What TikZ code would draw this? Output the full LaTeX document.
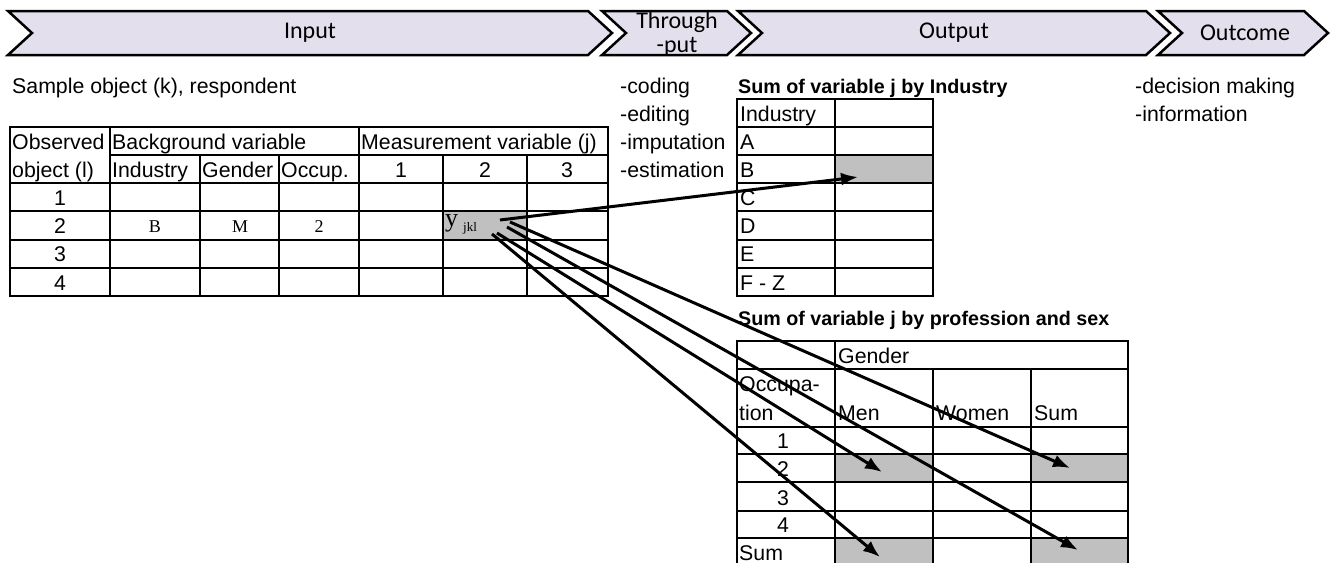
\documentclass[tikz,border=0pt]{standalone}
\usepackage{fontspec}
\setmainfont{Liberation Sans}
\newfontfamily\tnr{Liberation Serif}
\newfontfamily\calib{Carlito}
\usetikzlibrary{arrows.meta}
\definecolor{chev}{HTML}{E4DFEC}
\definecolor{cellgray}{HTML}{C0C0C0}
\begin{document}
\begin{tikzpicture}[x=1pt,y=-1pt,
 chevron/.style={fill=chev,draw=black,line width=2.5pt,line join=miter},
 chevtxt/.style={font=\calib\fontsize{24}{25}\selectfont, inner sep=0, align=center},
 txt/.style={font=\fontsize{21.3}{24}\selectfont, inner sep=0, anchor=base west},
 ctxt/.style={font=\fontsize{21.3}{24}\selectfont, inner sep=0, anchor=base},
 btxt/.style={font=\bfseries\fontsize{19.7}{24}\selectfont, inner sep=0, anchor=base west},
 serif/.style={font=\tnr\fontsize{18}{20}\selectfont, inner sep=0, anchor=base},
 grid/.style={line width=2pt, draw=black},
 gcell/.style={fill=cellgray},
 arr/.style={line width=3pt, -{Latex[length=17pt,width=13pt]}},
]
\useasboundingbox[fill=white] (0,0) rectangle (1332,562);

% ---------- chevrons ----------
\draw[chevron] (8,11) -- (588,11) -- (612,33) -- (588,55) -- (8,55) -- (32,33) -- cycle;
\draw[chevron] (602,11) -- (727,11) -- (751,33) -- (727,55) -- (602,55) -- (626,33) -- cycle;
\draw[chevron] (738,11) -- (1146,11) -- (1170,33) -- (1146,55) -- (738,55) -- (762,33) -- cycle;
\draw[chevron] (1158,11) -- (1304,11) -- (1328,33) -- (1304,55) -- (1158,55) -- (1182,33) -- cycle;
\node[chevtxt] (hin) at (310,33) {Input};
\node[chevtxt, anchor=base] (hth1) at (677,28) {Through};
\node[chevtxt, anchor=base] (hth2) at (677,52) {-put};
\node[chevtxt] (hout) at (954,33) {Output};
\node[chevtxt] (hoc) at (1245,33) {Outcome};

% ---------- free texts ----------
\node[txt] (sample) at (12,93) {Sample object (k), respondent};
\node[txt] (p1) at (620,93) {-coding};
\node[txt] (p2) at (620,121) {-editing};
\node[txt] (p3) at (620,149) {-imputation};
\node[txt] (p4) at (620,177) {-estimation};
\node[txt] (o1) at (1135,93) {-decision making};
\node[txt] (o2) at (1135,121) {-information};
\node[btxt] (ttl1) at (738,93) {Sum of variable j by Industry};
\node[btxt] (ttl2) at (738,325) {Sum of variable j by profession and sex};

% ---------- gray cells ----------
\fill[gcell] (443,211) rectangle (527,239.5);
\fill[gcell] (835,155) rectangle (933,183);
\fill[gcell] (835,454) rectangle (933,482);
\fill[gcell] (1031,454) rectangle (1128,482);
\fill[gcell] (835,538) rectangle (933,570);
\fill[gcell] (1031,538) rectangle (1128,570);

% ---------- main table ----------
\draw[grid] (10,127) rectangle (608,296);
\draw[grid] (110,155) -- (608,155);
\foreach \yy in {183,211,239.5,268} \draw[grid] (10,\yy) -- (608,\yy);
\foreach \xx in {110,359} \draw[grid] (\xx,127) -- (\xx,296);
\foreach \xx in {200,279,443,527} \draw[grid] (\xx,155) -- (\xx,296);
\node[txt] (m1) at (12,149) {Observed};
\node[txt] (m2) at (12,177) {object (l)};
\node[txt] (m3) at (112,149) {Background variable};
\node[txt] (m4) at (361,149) {Measurement variable (j)};
\node[txt] (m5) at (112,177) {Industry};
\node[txt] (m6) at (202,177) {Gender};
\node[txt] (m7) at (281,177) {Occup.};
\node[ctxt] (m8) at (401,177) {1};
\node[ctxt] (m9) at (485,177) {2};
\node[ctxt] (m10) at (567,177) {3};
\node[ctxt] (r1) at (60,205) {1};
\node[ctxt] (r2) at (60,233) {2};
\node[ctxt] (r3) at (60,261.5) {3};
\node[ctxt] (r4) at (60,290) {4};
\node[serif] (vb) at (155,232) {B};
\node[serif] (vm) at (240,232) {M};
\node[serif] (v2) at (319,232) {2};
\node[inner sep=0, anchor=base west] (yjkl) at (445,226)
  {{\tnr\fontsize{26}{26}\selectfont y}\hspace{5pt}\raisebox{-5pt}{\tnr\fontsize{13}{13}\selectfont jkl}};

% ---------- industry table ----------
\draw[grid] (737,99) rectangle (933,296);
\draw[grid] (835,99) -- (835,296);
\foreach \yy in {127,155,183,211,239.5,268} \draw[grid] (737,\yy) -- (933,\yy);
\node[txt] (i0) at (740,121) {Industry};
\node[txt] (i1) at (740,149) {A};
\node[txt] (i2) at (740,177) {B};
\node[txt] (i3) at (740,205) {C};
\node[txt] (i4) at (740,233) {D};
\node[txt] (i5) at (740,261.5) {E};
\node[txt] (i6) at (740,290) {F - Z};

% ---------- profession / sex table ----------
\draw[grid] (737,570) -- (737,341) -- (1128,341) -- (1128,570);
\draw[grid] (835,341) -- (835,570);
\foreach \xx in {933,1031} \draw[grid] (\xx,369) -- (\xx,570);
\foreach \yy in {369,427,454,482,511,538} \draw[grid] (737,\yy) -- (1128,\yy);
\node[txt] (g0) at (838,363) {Gender};
\node[txt] (g1) at (739,391) {Occupa-};
\node[txt] (g2) at (739,420) {tion};
\node[txt] (g3) at (838,420) {Men};
\node[txt] (g4) at (936,420) {Women};
\node[txt] (g5) at (1034,420) {Sum};
\node[ctxt] (q1) at (783,448) {1};
\node[ctxt] (q2) at (783,476) {2};
\node[ctxt] (q3) at (783,505) {3};
\node[ctxt] (q4) at (783,532) {4};
\node[txt] (q5) at (739,560) {Sum};

% ---------- arrows ----------
\coordinate (s1) at (500,220);
\coordinate (s2) at (510,222);
\coordinate (s3) at (507,227);
\coordinate (s4) at (497,233);
\coordinate (s5) at (492,234);
\coordinate (e1) at (858,177);
\coordinate (e2) at (1070,468);
\coordinate (e3) at (1078,550);
\coordinate (e4) at (882,472);
\coordinate (e5) at (880,557);
\draw[arr] (s1) -- (e1);
\draw[arr] (s2) -- (e2);
\draw[arr] (s3) -- (e3);
\draw[arr] (s4) -- (e4);
\draw[arr] (s5) -- (e5);
\end{tikzpicture}
\end{document}
